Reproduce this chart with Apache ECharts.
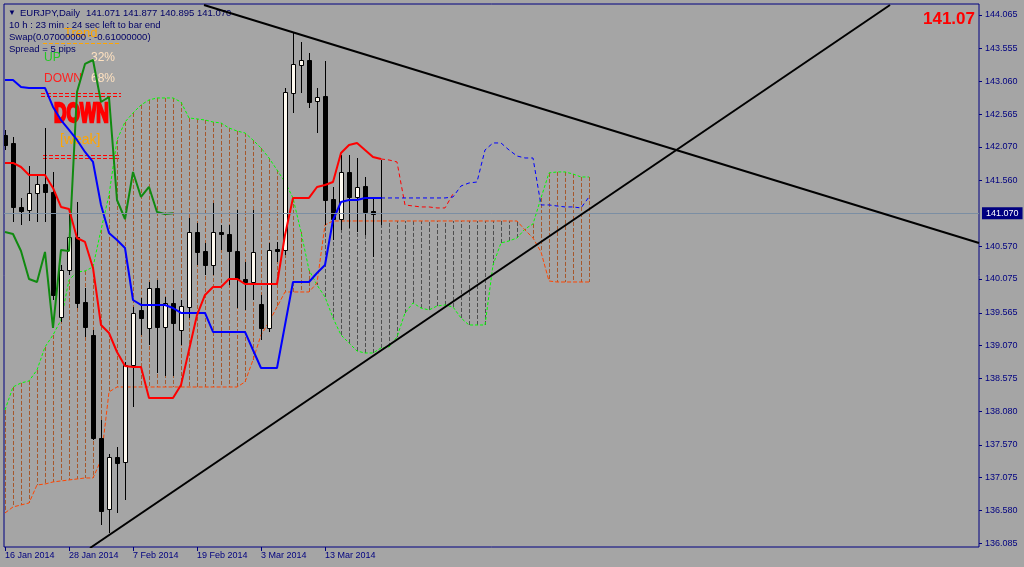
<!DOCTYPE html>
<html><head><meta charset="utf-8">
<script src="https://cdn.jsdelivr.net/npm/echarts@6/dist/echarts.min.js"></script>
<style>html,body{margin:0;padding:0;background:#a5a5a5}#c{width:1024px;height:567px}</style>
</head><body><div id="c"></div>
<script>
// ---------- data ----------
const dateLabels = ['16 Jan 2014','28 Jan 2014','7 Feb 2014','19 Feb 2014','3 Mar 2014','13 Mar 2014'];
const dateLabelBars = [0, 8, 16, 24, 32, 40];
const yTickLabels = ['144.065','143.555','143.060','142.565','142.070','141.560','140.570','140.075','139.565','139.070','138.575','138.080','137.570','137.075','136.580','136.085'];

const opens  = [142.252,142.131,141.164,141.118,141.375,141.511,141.390,139.501,140.212,140.710,139.728,139.229,137.673,136.600,137.385,137.310,138.776,139.607,139.335,139.940,139.350,139.713,139.305,139.652,140.786,140.499,140.287,140.786,140.756,140.499,140.076,140.030,139.698,139.335,140.529,140.514,142.887,143.310,143.385,142.766,142.841,141.284,140.982,141.693,141.315,141.481,141.103,141.071];
const closes = [142.101,141.164,141.103,141.375,141.511,141.390,139.834,140.212,140.710,139.713,139.350,137.673,136.569,137.385,137.295,138.776,139.562,139.486,139.940,139.350,139.713,139.410,139.667,140.786,140.484,140.287,140.786,140.756,140.499,140.076,140.030,140.484,139.335,140.514,140.499,142.902,143.325,143.385,142.750,142.826,141.269,140.982,141.693,141.315,141.466,141.088,141.058,141.070];
const highs  = [142.327,142.222,141.300,141.783,141.647,142.358,141.693,140.287,141.088,141.239,139.940,139.305,137.945,137.431,137.537,138.821,139.652,139.788,140.030,140.060,139.803,139.909,139.758,140.997,140.922,140.620,141.224,140.892,140.892,141.118,140.332,141.118,139.834,140.620,140.635,142.962,143.808,143.657,143.491,142.962,143.370,141.466,141.950,141.950,141.904,141.617,141.315,141.877];
const lows   = [142.025,140.937,140.892,140.952,140.937,140.937,139.758,139.426,140.136,139.637,139.199,137.642,136.358,136.237,136.539,136.736,138.141,139.229,139.078,138.655,138.610,138.610,139.078,139.486,140.287,140.136,140.136,140.514,139.985,139.637,139.607,139.758,139.154,139.275,140.332,140.438,142.584,142.887,142.660,142.282,140.892,140.665,140.816,140.846,140.786,140.740,140.408,140.895];

const tenkan = [141.829,141.829,141.768,141.647,141.647,141.647,141.451,141.164,141.133,140.695,140.635,140.242,139.380,139.259,138.972,138.761,138.745,138.745,138.277,138.277,138.277,138.277,138.474,139.002,139.531,139.834,139.955,139.955,140.076,140.076,140.000,140.000,140.000,140.000,140.000,140.740,141.300,141.300,141.300,141.466,141.496,141.541,141.980,142.101,142.131,142.025,141.919,141.889];
const tenkanProj = [141.889,141.874,141.844,141.194,141.179,141.164,141.164,141.149,141.149,141.360];
const kijun = [143.083,143.083,142.977,142.962,142.962,142.962,142.675,142.478,142.327,142.176,141.995,141.844,141.194,140.771,140.665,140.544,139.758,139.683,139.683,139.683,139.683,139.637,139.562,139.562,139.562,139.562,139.275,139.275,139.275,139.275,139.275,139.002,138.730,138.730,138.730,139.380,140.030,140.030,140.030,140.166,140.287,140.967,141.239,141.269,141.269,141.300,141.300,141.300];
const kijunProj = [141.300,141.300,141.300,141.300,141.300,141.300,141.300,141.300,141.300,141.315,141.481,141.526,141.541,142.025,142.131,142.131,142.025,141.934,141.904,141.904,141.194,141.194,141.179,141.164,141.164,141.149,141.315];
const projStart = 47;
const chikouShift = 26;

const senkouA = [138.096,138.443,138.504,138.534,138.700,139.048,139.229,139.456,140.060,140.181,140.196,140.257,140.816,141.345,142.176,142.448,142.584,142.705,142.781,142.811,142.811,142.811,142.750,142.509,142.494,142.478,142.448,142.433,142.358,142.312,142.282,142.176,142.055,141.904,141.723,141.541,141.300,140.786,140.212,139.985,139.803,139.486,139.229,139.108,138.987,138.957,138.957,139.033,139.048,139.199,139.562,139.713,139.637,139.607,139.667,139.683,139.652,139.486,139.380,139.380,139.380,140.287,140.620,140.650,140.695,140.831,140.907,141.300,141.678,141.693,141.693,141.662,141.617,141.617];
const senkouB = [136.539,136.630,136.660,136.690,136.962,136.977,137.008,137.023,137.038,137.053,137.068,137.068,137.340,138.368,138.443,138.443,138.443,138.443,138.443,138.443,138.443,138.443,138.443,138.443,138.443,138.443,138.443,138.443,138.443,138.443,138.519,138.851,139.229,139.426,139.652,139.879,139.879,139.879,139.879,140.015,140.892,140.952,140.952,140.952,140.952,140.952,140.952,140.952,140.952,140.952,140.952,140.952,140.952,140.952,140.952,140.952,140.952,140.952,140.952,140.952,140.952,140.952,140.952,140.952,140.952,140.816,140.695,140.484,140.045,140.030,140.030,140.030,140.030,140.030];

const upperTrend = [[24.875, 144.216], [121.75, 140.619]];
const lowerTrend = [[10.625, 136.010], [110.625, 144.216]];
const lastPrice = 141.070;

// ---------- chart ----------
const FF = '"Liberation Sans", Arial, "DejaVu Sans", sans-serif';
const NAVY = '#000080';
const chart = echarts.init(document.getElementById('c'), null, {renderer: 'canvas'});

const idx = arr => arr.map((v, i) => [i, v]);
const shifted = (arr, s) => arr.map((v, k) => [s + k, v]);
const candleData = opens.map((o, i) => [i, o, closes[i], lows[i], highs[i]]);
const chikouData = closes.slice(chikouShift).map((c, k) => [k, c]);
const cloudData = senkouA.map((a, i) => [i, a, senkouB[i]]);

function renderCandle(params, api) {
  const i = api.value(0), o = api.value(1), c = api.value(2), l = api.value(3), h = api.value(4);
  const pO = api.coord([i, o]), pC = api.coord([i, c]), pL = api.coord([i, l]), pH = api.coord([i, h]);
  const cx = Math.round(pO[0]);
  const top = Math.round(Math.min(pO[1], pC[1])), bot = Math.round(Math.max(pO[1], pC[1]));
  const bull = c > o;
  return {type: 'group', children: [
    {type: 'line', shape: {x1: cx + 0.5, y1: Math.round(pH[1]), x2: cx + 0.5, y2: Math.round(pL[1])}, style: {stroke: '#000', lineWidth: 1}},
    {type: 'rect', shape: {x: cx - 1.5, y: top + 0.5, width: 4, height: Math.max(bot - top, 0)}, style: {fill: bull ? '#fffaf0' : '#000', stroke: '#000', lineWidth: 1}}
  ]};
}
function renderHatch(params, api) {
  const i = api.value(0), a = api.value(1), b = api.value(2);
  const pa = api.coord([i, a]), pb = api.coord([i, b]);
  const x = Math.round(pa[0]) + 0.5;
  return {type: 'line', shape: {x1: x, y1: pa[1], x2: x, y2: pb[1]},
    style: {stroke: a >= b ? '#a6582c' : '#4e4e4e', lineWidth: 1, lineDash: [4, 2]}};
}
function lineSeries(data, color, width, dash, z) {
  return {type: 'line', data, symbol: 'none', showSymbol: false, silent: true, clip: true, z,
    lineStyle: {color, width, type: dash || 'solid'}, animation: false};
}

const txt = (text, x, y, fill, size, weight) => ({
  type: 'text', x, y, silent: true,
  style: {text, fill, font: (weight || 'normal') + ' ' + size + 'px ' + FF, textVerticalAlign: 'middle', verticalAlign: 'middle'}
});
const hline = (x1, x2, y, stroke, dash) => ({type: 'line', silent: true, shape: {x1, y1: y + 0.5, x2, y2: y + 0.5}, style: {stroke, lineWidth: 1, lineDash: dash}});

const option = {
  backgroundColor: '#a5a5a5',
  animation: false,
  grid: {left: 4, right: 45, top: 4, bottom: 20, show: true, borderColor: NAVY, borderWidth: 1, backgroundColor: 'transparent'},
  xAxis: {
    type: 'value', min: -0.125, max: 121.75,
    axisLine: {show: false, onZero: false}, splitLine: {show: false},
    axisTick: {show: true, customValues: dateLabelBars, length: 4, lineStyle: {color: NAVY}},
    axisLabel: {customValues: dateLabelBars, formatter: v => dateLabels[dateLabelBars.indexOf(Math.round(v))] || '',
      align: 'left', color: NAVY, fontSize: 9, fontFamily: FF, margin: 4}
  },
  yAxis: {
    type: 'value', position: 'right', min: 136.0249, max: 144.2312, scale: true,
    axisLine: {show: false, onZero: false}, splitLine: {show: false},
    axisTick: {show: true, customValues: yTickLabels.map(Number), length: 3, lineStyle: {color: NAVY}},
    axisLabel: {customValues: yTickLabels.map(Number), formatter: v => v.toFixed(3), color: NAVY, fontSize: 9, fontFamily: FF, margin: 6}
  },
  series: [
    {type: 'custom', renderItem: renderHatch, data: cloudData, encode: {x: 0, y: [1, 2]}, clip: true, silent: true, z: 1,
      markLine: {symbol: 'none', silent: true, animation: false, data: [{yAxis: lastPrice}],
        lineStyle: {color: '#7b8ea3', width: 1, type: 'solid'},
        label: {show: true, position: 'end', distance: 3, formatter: lastPrice.toFixed(3), backgroundColor: NAVY, color: '#fff',
          padding: [2, 4, 1, 4], fontSize: 9, fontFamily: FF}}},
    lineSeries(idx(senkouA), '#00ff00', 1, [3, 2], 2),
    lineSeries(idx(senkouB), '#ff4500', 1, [4, 2], 2),
    {type: 'custom', renderItem: renderCandle, data: candleData, encode: {x: 0, y: [1, 2, 3, 4]}, clip: true, silent: true, z: 3},
    lineSeries(shifted(tenkanProj, projStart), '#ff0000', 1, [4, 3], 3),
    lineSeries(shifted(kijunProj, projStart), '#0000ff', 1, [4, 3], 3),
    lineSeries(chikouData, '#108a10', 2, null, 4),
    lineSeries(idx(kijun), '#0000ff', 2, null, 4),
    lineSeries(idx(tenkan), '#ff0000', 2, null, 4),
    lineSeries(upperTrend, '#000000', 2, null, 5),
    lineSeries(lowerTrend, '#000000', 2, null, 5)
  ],
  graphic: [
    txt('Trend', 64, 33, '#ffa500', 13),
    hline(43, 121, 43, '#ffa500', [4, 2]),
    txt('\u25BC', 8, 13, '#000066', 8),
    txt('EURJPY,Daily', 20, 13, '#000066', 9.5),
    txt('141.071 141.877 140.895 141.070', 86, 13, '#000066', 9.5),
    txt('10 h : 23 min : 24 sec left to bar end', 9, 25, '#000066', 9.5),
    txt('Swap(0.07000000 : -0.61000000)', 9, 37, '#000066', 9.5),
    txt('Spread = 5 pips', 9, 49, '#000066', 9.5),
    txt('UP', 44, 58, '#22c822', 12),
    txt('32%', 91, 58, '#ffe2c0', 12),
    txt('DOWN', 44, 79, '#ff2020', 12),
    txt('68%', 91, 79, '#ffe2c0', 12),
    hline(41, 121, 93, '#ff0000', [4, 2]),
    hline(41, 121, 96, '#ff0000', [4, 2]),
    {type: 'text', x: 54, y: 115, scaleX: 0.64, silent: true,
      style: {text: 'DOWN', fill: '#ff0000', stroke: '#ff0000', lineWidth: 2.5, font: 'bold 27px ' + FF, textVerticalAlign: 'middle', verticalAlign: 'middle'}},
    txt('[weak]', 60, 140, '#ffa500', 14),
    hline(43, 121, 155, '#ff0000', [4, 2]),
    hline(43, 121, 158, '#ff0000', [4, 2]),
    {type: 'text', x: 975, y: 19, silent: true,
      style: {text: lastPrice.toFixed(2), fill: '#ff0000', font: 'bold 17px ' + FF, textAlign: 'right', align: 'right', textVerticalAlign: 'middle', verticalAlign: 'middle'}}
  ]
};
chart.setOption(option);
</script>
</body></html>
